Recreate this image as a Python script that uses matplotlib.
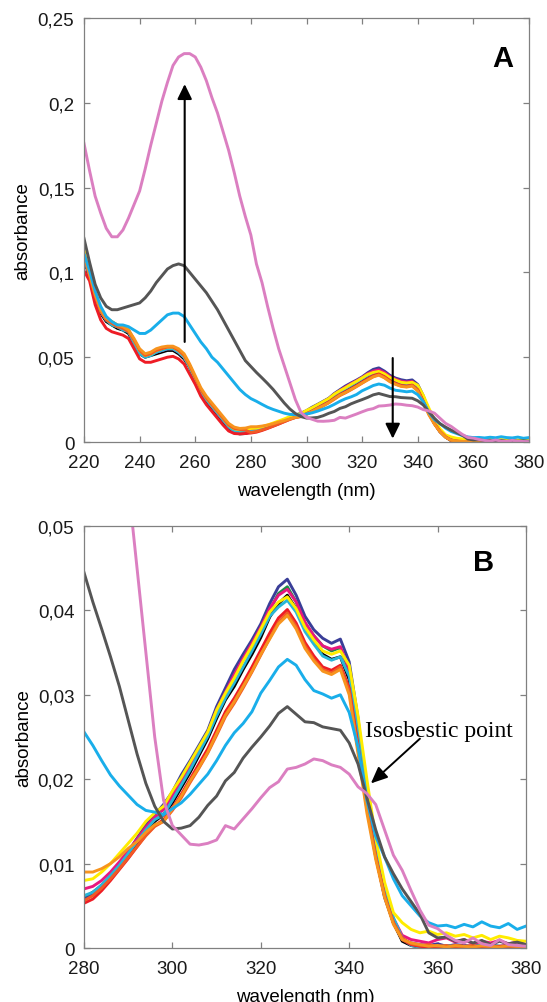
import numpy as np
import matplotlib
matplotlib.use('Agg')
import matplotlib.pyplot as plt

plt.rcParams['font.family'] = ['Liberation Sans', 'DejaVu Sans']

# wavelength grid (nm), one sample every 2 nm
wavelength = np.arange(220, 381, 2)

pink = [
    0.176, 0.160, 0.145, 0.135, 0.126, 0.121, 0.121, 0.125, 0.132, 0.140,
    0.148, 0.161, 0.175, 0.188, 0.201, 0.212, 0.222, 0.227, 0.229, 0.229,
    0.227, 0.221, 0.213, 0.203, 0.194, 0.183, 0.172, 0.159, 0.145, 0.133,
    0.122, 0.105, 0.094, 0.080, 0.067, 0.055, 0.045, 0.035, 0.025, 0.0175,
    0.0145, 0.0134, 0.0123, 0.0122, 0.0124, 0.0128, 0.0145, 0.0141, 0.0153, 0.0165,
    0.0178, 0.0190, 0.0197, 0.0212, 0.0214, 0.0218, 0.0224, 0.0222, 0.0217, 0.0214,
    0.0206, 0.0191, 0.0183, 0.0170, 0.0140, 0.0110, 0.0092, 0.0068, 0.0045, 0.0027,
    0.0023, 0.0015, 0.0009, 0.0006, 0.0012, 0.0005, 0.0003, 0.0010, 0.0004, 0.0003,
    0.0002]

grey = [
    0.120, 0.106, 0.093, 0.085, 0.080, 0.078, 0.078, 0.079, 0.080, 0.081,
    0.082, 0.085, 0.089, 0.094, 0.098, 0.102, 0.104, 0.105, 0.104, 0.100,
    0.096, 0.092, 0.088, 0.083, 0.078, 0.072, 0.066, 0.060, 0.054, 0.048,
    0.0445, 0.0410, 0.0378, 0.0345, 0.0310, 0.0270, 0.0230, 0.0195, 0.0168, 0.0150,
    0.0141, 0.0142, 0.0145, 0.0155, 0.0169, 0.0180, 0.0198, 0.0208, 0.0225, 0.0238,
    0.0250, 0.0263, 0.0278, 0.0286, 0.0277, 0.0268, 0.0267, 0.0262, 0.0260, 0.0258,
    0.0243, 0.0218, 0.0178, 0.0140, 0.0108, 0.0088, 0.0070, 0.0055, 0.0040, 0.0018,
    0.0012, 0.0013, 0.0008, 0.0010, 0.0006, 0.0009, 0.0004, 0.0008, 0.0005, 0.0007,
    0.0004]

sky = [
    0.111, 0.101, 0.089, 0.080, 0.074, 0.071, 0.069, 0.069, 0.068, 0.066,
    0.064, 0.064, 0.066, 0.069, 0.072, 0.075, 0.076, 0.076, 0.074, 0.069,
    0.064, 0.059, 0.055, 0.050, 0.047, 0.043, 0.039, 0.035, 0.031, 0.028,
    0.0256, 0.0240, 0.0222, 0.0205, 0.0192, 0.0181, 0.0170, 0.0163, 0.0161, 0.0158,
    0.0165, 0.0172, 0.0182, 0.0194, 0.0206, 0.0222, 0.0240, 0.0255, 0.0266, 0.0280,
    0.0302, 0.0317, 0.0333, 0.0342, 0.0335, 0.0318, 0.0305, 0.0301, 0.0296, 0.0300,
    0.0279, 0.0238, 0.0175, 0.0132, 0.0108, 0.0082, 0.0062, 0.0050, 0.0038, 0.0030,
    0.0026, 0.0027, 0.0024, 0.0028, 0.0025, 0.0031, 0.0026, 0.0024, 0.0029, 0.0022,
    0.0026]

black = [
    0.108, 0.097, 0.085, 0.076, 0.071, 0.069, 0.067, 0.066, 0.064, 0.058,
    0.052, 0.050, 0.051, 0.052, 0.053, 0.054, 0.054, 0.052, 0.049, 0.044,
    0.036, 0.029, 0.024, 0.020, 0.016, 0.012, 0.008, 0.0055, 0.0048, 0.0050,
    0.0060, 0.0066, 0.0074, 0.0085, 0.0097, 0.0110, 0.0124, 0.0138, 0.0150, 0.0158,
    0.0172, 0.0190, 0.0208, 0.0228, 0.0248, 0.0272, 0.0294, 0.0310, 0.0330, 0.0348,
    0.0368, 0.0392, 0.0408, 0.0418, 0.0402, 0.0378, 0.0362, 0.0348, 0.0342, 0.0345,
    0.0318, 0.0250, 0.0175, 0.0112, 0.0065, 0.0030, 0.0008, 0.0003, 0.0001, 0.0000,
    0.0000, 0.0002, 0.0001, 0.0000, 0.0002, 0.0001, 0.0000, 0.0001, 0.0002, 0.0000,
    0.0001]

navy = [
    0.109, 0.098, 0.086, 0.077, 0.072, 0.070, 0.068, 0.067, 0.066, 0.060,
    0.053, 0.051, 0.052, 0.053, 0.054, 0.055, 0.055, 0.053, 0.050, 0.045,
    0.037, 0.030, 0.025, 0.021, 0.017, 0.013, 0.009, 0.0065, 0.0056, 0.0055,
    0.0058, 0.0063, 0.0073, 0.0085, 0.0098, 0.0114, 0.0130, 0.0146, 0.0158, 0.0170,
    0.0185, 0.0205, 0.0222, 0.0240, 0.0258, 0.0286, 0.0308, 0.0330, 0.0348, 0.0365,
    0.0384, 0.0408, 0.0428, 0.0437, 0.0418, 0.0393, 0.0377, 0.0367, 0.0361, 0.0366,
    0.0339, 0.0272, 0.0180, 0.0110, 0.0060, 0.0030, 0.0010, 0.0006, 0.0004, 0.0003,
    0.0005, 0.0002, 0.0004, 0.0003, 0.0002, 0.0004, 0.0003, 0.0002, 0.0003, 0.0002,
    0.0003]

green = [
    0.109, 0.098, 0.086, 0.077, 0.072, 0.069, 0.068, 0.067, 0.065, 0.059,
    0.053, 0.051, 0.052, 0.053, 0.054, 0.055, 0.055, 0.053, 0.050, 0.044,
    0.037, 0.030, 0.025, 0.021, 0.017, 0.013, 0.009, 0.0062, 0.0054, 0.0055,
    0.0060, 0.0065, 0.0074, 0.0086, 0.0099, 0.0113, 0.0127, 0.0142, 0.0155, 0.0165,
    0.0180, 0.0198, 0.0216, 0.0235, 0.0254, 0.0280, 0.0301, 0.0322, 0.0341, 0.0358,
    0.0377, 0.0400, 0.0420, 0.0428, 0.0410, 0.0385, 0.0370, 0.0358, 0.0352, 0.0356,
    0.0328, 0.0262, 0.0178, 0.0110, 0.0062, 0.0030, 0.0010, 0.0004, 0.0002, 0.0003,
    0.0001, 0.0002, 0.0003, 0.0001, 0.0002, 0.0001, 0.0003, 0.0002, 0.0001, 0.0002,
    0.0001]

magenta = [
    0.110, 0.098, 0.086, 0.077, 0.072, 0.070, 0.068, 0.067, 0.066, 0.060,
    0.053, 0.051, 0.052, 0.053, 0.054, 0.055, 0.055, 0.053, 0.050, 0.045,
    0.037, 0.030, 0.025, 0.021, 0.017, 0.013, 0.009, 0.0066, 0.0060, 0.0063,
    0.0070, 0.0073, 0.0080, 0.0090, 0.0102, 0.0115, 0.0129, 0.0143, 0.0155, 0.0164,
    0.0180, 0.0199, 0.0217, 0.0236, 0.0255, 0.0282, 0.0303, 0.0324, 0.0343, 0.0361,
    0.0380, 0.0402, 0.0418, 0.0425, 0.0410, 0.0386, 0.0370, 0.0358, 0.0354, 0.0357,
    0.0330, 0.0263, 0.0182, 0.0115, 0.0068, 0.0035, 0.0015, 0.0010, 0.0008, 0.0006,
    0.0010, 0.0012, 0.0007, 0.0010, 0.0005, 0.0008, 0.0006, 0.0009, 0.0005, 0.0007,
    0.0004]

cyan = [
    0.109, 0.098, 0.086, 0.077, 0.072, 0.069, 0.068, 0.066, 0.065, 0.058,
    0.052, 0.050, 0.051, 0.053, 0.054, 0.055, 0.055, 0.053, 0.050, 0.044,
    0.037, 0.030, 0.025, 0.021, 0.017, 0.013, 0.009, 0.0064, 0.0058, 0.0058,
    0.0062, 0.0066, 0.0075, 0.0086, 0.0098, 0.0112, 0.0126, 0.0140, 0.0152, 0.0158,
    0.0175, 0.0193, 0.0211, 0.0231, 0.0251, 0.0275, 0.0296, 0.0314, 0.0333, 0.0352,
    0.0372, 0.0393, 0.0404, 0.0412, 0.0398, 0.0375, 0.0360, 0.0346, 0.0341, 0.0345,
    0.0322, 0.0258, 0.0182, 0.0118, 0.0070, 0.0036, 0.0012, 0.0003, 0.0001, 0.0002,
    0.0001, 0.0003, 0.0002, 0.0001, 0.0002, 0.0003, 0.0001, 0.0002, 0.0001, 0.0002,
    0.0001]

yellow = [
    0.113, 0.100, 0.087, 0.078, 0.073, 0.071, 0.069, 0.068, 0.066, 0.060,
    0.054, 0.051, 0.052, 0.054, 0.055, 0.056, 0.056, 0.054, 0.051, 0.045,
    0.038, 0.031, 0.026, 0.022, 0.018, 0.014, 0.010, 0.0078, 0.0072, 0.0074,
    0.0080, 0.0082, 0.0090, 0.0100, 0.0112, 0.0124, 0.0136, 0.0150, 0.0160, 0.0168,
    0.0186, 0.0202, 0.0220, 0.0238, 0.0256, 0.0282, 0.0302, 0.0320, 0.0340, 0.0358,
    0.0378, 0.0398, 0.0410, 0.0416, 0.0402, 0.0380, 0.0365, 0.0352, 0.0348, 0.0352,
    0.0335, 0.0275, 0.0200, 0.0130, 0.0078, 0.0042, 0.0030, 0.0022, 0.0018, 0.0020,
    0.0016, 0.0018, 0.0014, 0.0016, 0.0012, 0.0015, 0.0010, 0.0014, 0.0012, 0.0009,
    0.0008]

red = [
    0.101, 0.095, 0.081, 0.072, 0.067, 0.065, 0.064, 0.063, 0.061, 0.055,
    0.049, 0.047, 0.047, 0.048, 0.049, 0.050, 0.0505, 0.049, 0.046, 0.040,
    0.034, 0.027, 0.022, 0.018, 0.014, 0.010, 0.0065, 0.0050, 0.0048, 0.0050,
    0.0053, 0.0058, 0.0068, 0.0080, 0.0093, 0.0106, 0.0120, 0.0134, 0.0145, 0.0152,
    0.0166, 0.0182, 0.0200, 0.0218, 0.0236, 0.0258, 0.0280, 0.0296, 0.0314, 0.0333,
    0.0353, 0.0373, 0.0391, 0.0401, 0.0385, 0.0362, 0.0346, 0.0333, 0.0329, 0.0335,
    0.0308, 0.0240, 0.0168, 0.0108, 0.0062, 0.0030, 0.0010, 0.0004, 0.0002, 0.0001,
    0.0002, 0.0001, 0.0003, 0.0002, 0.0001, 0.0002, 0.0001, 0.0002, 0.0003, 0.0001,
    0.0002]

orangered = [
    0.110, 0.098, 0.086, 0.077, 0.072, 0.070, 0.068, 0.067, 0.065, 0.060,
    0.054, 0.051, 0.052, 0.054, 0.055, 0.056, 0.056, 0.054, 0.051, 0.045,
    0.038, 0.031, 0.026, 0.022, 0.018, 0.014, 0.010, 0.0080, 0.0074, 0.0070,
    0.0056, 0.0062, 0.0071, 0.0082, 0.0094, 0.0107, 0.0120, 0.0133, 0.0144, 0.0150,
    0.0163, 0.0178, 0.0196, 0.0213, 0.0231, 0.0252, 0.0274, 0.0290, 0.0308, 0.0327,
    0.0347, 0.0367, 0.0386, 0.0397, 0.0381, 0.0358, 0.0342, 0.0330, 0.0326, 0.0333,
    0.0305, 0.0235, 0.0165, 0.0108, 0.0062, 0.0030, 0.0012, 0.0005, 0.0003, 0.0004,
    0.0002, 0.0003, 0.0001, 0.0002, 0.0003, 0.0001, 0.0002, 0.0001, 0.0002, 0.0001,
    0.0002]

orange = [
    0.111, 0.099, 0.087, 0.078, 0.073, 0.071, 0.069, 0.068, 0.066, 0.061,
    0.055, 0.052, 0.053, 0.055, 0.056, 0.0565, 0.0565, 0.055, 0.052, 0.046,
    0.039, 0.032, 0.027, 0.023, 0.019, 0.015, 0.011, 0.0088, 0.0080, 0.0082,
    0.0090, 0.0090, 0.0094, 0.0100, 0.0108, 0.0118, 0.0126, 0.0137, 0.0146, 0.0150,
    0.0165, 0.0180, 0.0198, 0.0214, 0.0232, 0.0254, 0.0276, 0.0292, 0.0310, 0.0328,
    0.0348, 0.0366, 0.0384, 0.0394, 0.0378, 0.0355, 0.0340, 0.0328, 0.0324, 0.0330,
    0.0300, 0.0230, 0.0160, 0.0105, 0.0060, 0.0028, 0.0010, 0.0006, 0.0004, 0.0002,
    0.0003, 0.0001, 0.0003, 0.0002, 0.0001, 0.0003, 0.0002, 0.0001, 0.0003, 0.0002,
    0.0002]

series = [
    (black, '#000000'), (green, '#1E8B45'), (navy, '#3A3E98'),
    (magenta, '#E8177F'), (cyan, '#29B6D8'), (yellow, '#FFEC00'),
    (red, '#EE1C25'), (orangered, '#F15A24'), (orange, '#F7941E'),
    (sky, '#19AEEA'), (grey, '#555555'), (pink, '#DB7FC1'),
]

ticks_a = [0, 0.05, 0.1, 0.15, 0.2, 0.25]
ticklabels_a = ['0', '0,05', '0,1', '0,15', '0,2', '0,25']
ticks_b = [0, 0.01, 0.02, 0.03, 0.04, 0.05]
ticklabels_b = ['0', '0,01', '0,02', '0,03', '0,04', '0,05']

fig = plt.figure(figsize=(5.47, 10.03), dpi=100)
ax_a = fig.add_axes([84 / 547, 1 - 443 / 1003, 445 / 547, 424 / 1003])
ax_b = fig.add_axes([84 / 547, 1 - 949 / 1003, 442 / 547, 422 / 1003])


def style(ax):
    for sp in ax.spines.values():
        sp.set_color('#808080')
        sp.set_linewidth(0.9)
    ax.tick_params(direction='in', length=4.5, width=0.9, color='#808080',
                   top=True, right=True, labelsize=13.5, labelcolor='#1a1a1a')
    ax.tick_params(axis='x', pad=8.5)
    ax.tick_params(axis='y', pad=7)
    ax.set_xlabel('wavelength (nm)', fontsize=13.5, labelpad=8)
    ax.set_ylabel('absorbance', fontsize=13.5)
    ax.yaxis.set_label_coords(-0.118, 0.5)


for vals, col in series:
    ax_a.plot(wavelength, vals, color=col, lw=2.1)
    ax_b.plot(wavelength, vals, color=col, lw=2.1)

ax_a.set_xlim(220, 380)
ax_a.set_ylim(0, 0.25)
ax_a.set_xticks(range(220, 381, 20))
ax_a.set_yticks(ticks_a)
ax_a.set_yticklabels(ticklabels_a)
style(ax_a)

ax_b.set_xlim(280, 380)
ax_b.set_ylim(0, 0.05)
ax_b.set_xticks(range(280, 381, 20))
ax_b.set_yticks(ticks_b)
ax_b.set_yticklabels(ticklabels_b)
style(ax_b)

# arrows in panel A
arrow_kw = dict(arrowstyle='-|>,head_length=0.45,head_width=0.22',
                color='black', lw=1.5, shrinkA=0, shrinkB=0, mutation_scale=20)
ax_a.annotate('', xy=(256.2, 0.211), xytext=(256.2, 0.059), arrowprops=arrow_kw)
ax_a.annotate('', xy=(331, 0.002), xytext=(331, 0.0495), arrowprops=arrow_kw)

ax_a.text(0.94, 0.905, 'A', transform=ax_a.transAxes, fontsize=21,
          fontweight='bold', ha='center', va='center')
ax_b.text(0.905, 0.915, 'B', transform=ax_b.transAxes, fontsize=21,
          fontweight='bold', ha='center', va='center')

# isosbestic point annotation
ax_b.annotate('', xy=(344.9, 0.0195), xytext=(356.0, 0.0248),
              arrowprops=dict(arrowstyle='-|>,head_length=0.5,head_width=0.22',
                              color='black', lw=1.4, shrinkA=0, shrinkB=0,
                              mutation_scale=20))
ax_b.text(343.6, 0.0251, 'Isosbestic point', fontsize=17,
          family=['Liberation Serif', 'DejaVu Serif'], ha='left', va='baseline')

fig.savefig('out.png', dpi=100)
